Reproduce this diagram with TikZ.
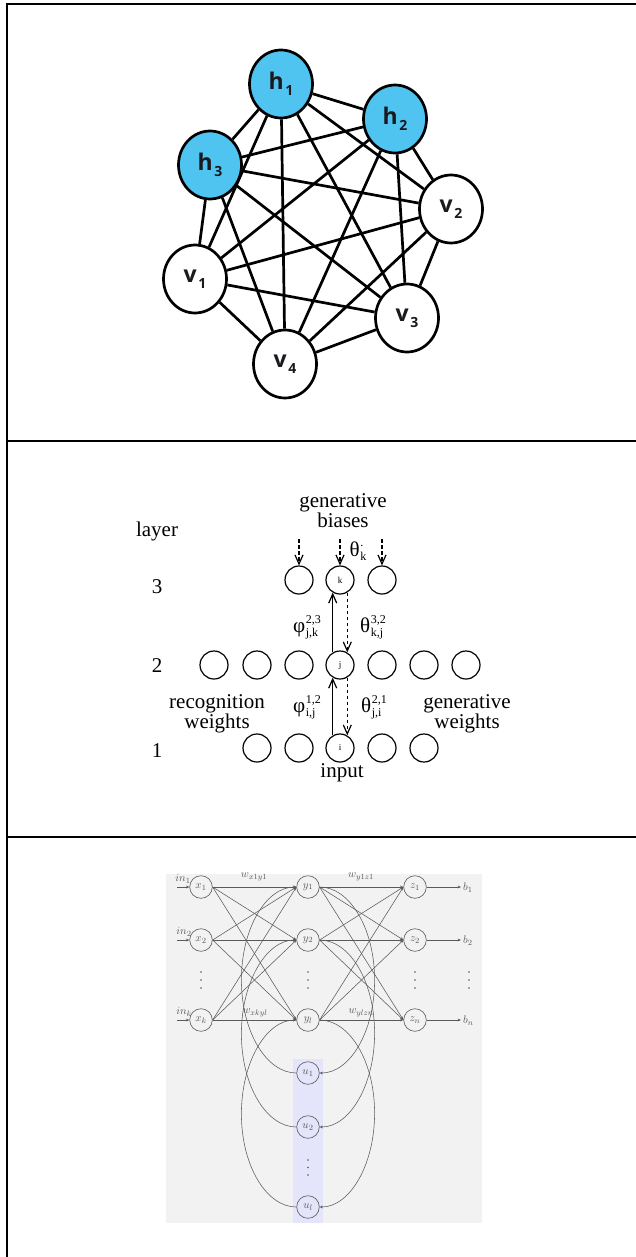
\documentclass[tikz,border=0pt]{standalone}
\usepackage{fontspec}
\usetikzlibrary{arrows.meta,shapes.geometric}
\newfontfamily\labfont{Open Sans}
\newfontfamily\hmfont{Liberation Serif}
\definecolor{hblue}{RGB}{80,196,240}
\definecolor{panelgray}{RGB}{242,242,242}
\definecolor{ctxblue}{RGB}{228,228,250}
\definecolor{ink}{RGB}{90,90,90}
\definecolor{labink}{RGB}{25,25,30}
% bold unit label with a detached subscript
\newcommand\unitlab[2]{{\labfont\bfseries\color{labink}\fontsize{23}{23}\selectfont #1\kern1.5pt\raisebox{-6pt}{\fontsize{14}{14}\selectfont #2}}}
% weight symbol with stacked superscript and subscript
\newcommand\wsym[3]{{\hmfont #1}\kern0.6pt\raisebox{-3.5pt}{\hmfont\fontsize{12}{9.5}\selectfont\shortstack[l]{#2\\#3}}}

\tikzset{
  frameline/.style={line width=2.2pt},
  bmnode/.style={ellipse,draw,line width=2.7pt,minimum width=63pt,minimum height=68pt,inner sep=0pt},
  hid/.style={bmnode,fill=hblue},
  vis/.style={bmnode,fill=white},
  bmedge/.style={line width=2.7pt},
  hmunit/.style={circle,draw,line width=1.2pt,minimum size=28pt,inner sep=0pt,font=\hmfont\fontsize{9}{9}\selectfont},
  hmtext/.style={font=\hmfont\fontsize{21}{14}\selectfont,align=center,inner sep=0pt},
  hmsym/.style={font=\hmfont\fontsize{21}{21}\selectfont,inner sep=0pt},
  recog/.style={line width=1.2pt,-{Straight Barb[length=9pt,width=8pt,line width=1.2pt]}},
  gener/.style={recog,dash pattern=on 3.5pt off 2.5pt},
  nnode/.style={circle,draw=ink,line width=0.6pt,minimum size=22.6pt,inner sep=0pt,font=\fontsize{11}{11}\selectfont,text=ink},
  nlab/.style={inner sep=0pt,font=\fontsize{11}{11}\selectfont,text=ink},
  nlink/.style={draw=ink,line width=0.55pt,-{Stealth[length=3.4pt,width=2.8pt]}},
  vdot/.style={circle,fill=ink,inner sep=0pt,minimum size=1.8pt},
}

\begin{document}
\begin{tikzpicture}[x=1pt,y=-1pt]
\useasboundingbox (0,0) rectangle (636,1257);

% ---------- table rules ----------
\draw[frameline] (7,1257) -- (7,4) -- (636,4);
\draw[frameline] (7,441) -- (636,441);
\draw[frameline] (7,837) -- (636,837);

% ---------- Boltzmann machine ----------
\node[hid] (h1) at (281,84)  {\unitlab{h}{1}};
\node[hid] (h2) at (395,119) {\unitlab{h}{2}};
\node[hid] (h3) at (210,165) {\unitlab{h}{3}};
\node[vis] (v2) at (451,209) {\unitlab{v}{2}};
\node[vis] (v1) at (195,279) {\unitlab{v}{1}};
\node[vis] (v3) at (407,318) {\unitlab{v}{3}};
\node[vis] (v4) at (285,364) {\unitlab{v}{4}};
\foreach \a/\b in {h1/h2,h1/h3,h1/v1,h1/v2,h1/v3,h1/v4,
                   h2/h3,h2/v1,h2/v2,h2/v3,h2/v4,
                   h3/v1,h3/v2,h3/v3,h3/v4,
                   v1/v2,v1/v3,v1/v4,v2/v3,v2/v4,v3/v4}
  \draw[bmedge] (\a) -- (\b);

% ---------- Helmholtz machine ----------
\node[hmtext] (gb) at (343,511) {generative\\biases};
\node[hmtext] (layerlab) at (157,531) {layer};
\node[hmtext] (n3) at (157,587) {3};
\node[hmtext] (n2) at (157,666) {2};
\node[hmtext] (n1) at (157,751) {1};

\node[hmunit] (l3a) at (299,580) {};
\node[hmunit] (k)   at (340,580) {k};
\node[hmunit] (l3c) at (382,580) {};

\node[hmunit] (l2a) at (214,665) {};
\node[hmunit] (l2b) at (257,665) {};
\node[hmunit] (l2c) at (299,665) {};
\node[hmunit] (j)   at (340,665) {j};
\node[hmunit] (l2e) at (382,665) {};
\node[hmunit] (l2f) at (424,665) {};
\node[hmunit] (l2g) at (466,665) {};

\node[hmunit] (l1a) at (257,748) {};
\node[hmunit] (l1b) at (299,748) {};
\node[hmunit] (i)   at (340,748) {i};
\node[hmunit] (l1d) at (382,748) {};
\node[hmunit] (l1e) at (424,748) {};

\coordinate (ba) at (299,539);
\coordinate (bk) at (340,539);
\coordinate (bc) at (382,539);
\draw[gener] (ba) -- (l3a);
\draw[gener] (bk) -- (k);
\draw[gener] (bc) -- (l3c);

\draw[recog] (j.120) -- (k.240);
\draw[gener] (k.300) -- (j.60);
\draw[recog] (i.120) -- (j.240);
\draw[gener] (j.300) -- (i.60);

\node[hmsym] (thk)   at (358,551) {\wsym{θ}{\raisebox{2pt}{.}}{k}};
\node[hmsym] (phi23) at (307,627) {\wsym{φ}{2,3}{j,k}};
\node[hmsym] (th32)  at (373,627) {\wsym{θ}{3,2}{k,j}};
\node[hmsym] (phi12) at (307,707) {\wsym{φ}{1,2}{i,j}};
\node[hmsym] (th21)  at (374,707) {\wsym{θ}{2,1}{j,i}};

\node[hmtext] (rw) at (217,714) {recognition\\weights};
\node[hmtext] (gw) at (467,714) {generative\\weights};
\node[hmtext] (inp) at (342,773) {input};

% ---------- recurrent network ----------
\fill[panelgray] (166,874) rectangle (482,1223);
\fill[ctxblue] (293,1059) rectangle (323,1223);

\node[nnode] (x1) at (201,887)  {$x_1$};
\node[nnode] (x2) at (201,940)  {$x_2$};
\node[nnode] (xk) at (201,1020) {$x_k$};
\node[nnode] (y1) at (308,887)  {$y_1$};
\node[nnode] (y2) at (308,940)  {$y_2$};
\node[nnode] (yl) at (308,1020) {$y_l$};
\node[nnode] (z1) at (415,887)  {$z_1$};
\node[nnode] (z2) at (415,940)  {$z_2$};
\node[nnode] (zn) at (415,1020) {$z_n$};
\node[nnode] (u1) at (308,1073) {$u_1$};
\node[nnode] (u2) at (308,1127) {$u_2$};
\node[nnode] (ul) at (308,1207) {$u_l$};

% elided units
\foreach \cx in {201,308,415,469}
  \foreach \cy in {972,980,988}
    \node[vdot] at (\cx,\cy) {};
\foreach \cy in {1160,1167.5,1175}
  \node[vdot] at (308,\cy) {};

\coordinate (s1) at (177,887);
\coordinate (s2) at (177,940);
\coordinate (sk) at (177,1020);
\draw[nlink] (s1) -- (x1);
\draw[nlink] (s2) -- (x2);
\draw[nlink] (sk) -- (xk);
\node[nlab] (in1) at (183,879)  {$in_1$};
\node[nlab] (in2) at (184,932)  {$in_2$};
\node[nlab] (ink) at (184,1012) {$in_k$};

\coordinate (e1) at (461,887);
\coordinate (e2) at (461,940);
\coordinate (en) at (461,1020);
\draw[nlink] (z1) -- (e1);
\draw[nlink] (z2) -- (e2);
\draw[nlink] (zn) -- (en);
\node[nlab,anchor=west] (b1) at (463,888)  {$b_1$};
\node[nlab,anchor=west] (b2) at (463,941)  {$b_2$};
\node[nlab,anchor=west] (bn) at (463,1021) {$b_n$};

\foreach \a in {x1,x2,xk}
  \foreach \b in {y1,y2,yl}
    \draw[nlink] (\a.east) -- (\b.west);
\foreach \a in {y1,y2,yl}
  \foreach \b in {z1,z2,zn}
    \draw[nlink] (\a.east) -- (\b.west);

\node[nlab] (w11) at (254,877)  {$w_{x1y1}$};
\node[nlab] (v11) at (361,877)  {$w_{y1z1}$};
\node[nlab] (wkl) at (255,1013) {$w_{xkyl}$};
\node[nlab] (vln) at (361,1013) {$w_{ylzn}$};

% each hidden unit is copied into its context unit and fed back (half-ellipse loops)
\foreach \h/\c in {y1/u1,y2/u2,yl/ul}{
  \draw[nlink] (\h.east) .. controls +(30,0) and +(0,-52) .. ++(55,93.2)
                         .. controls +(0,52) and +(30,0) .. (\c.east);
  \draw[nlink] (\c.west) .. controls +(-30,0) and +(0,52) .. ++(-55,-93.2)
                         .. controls +(0,-52) and +(-30,0) .. (\h.west);
}
\end{tikzpicture}
\end{document}
